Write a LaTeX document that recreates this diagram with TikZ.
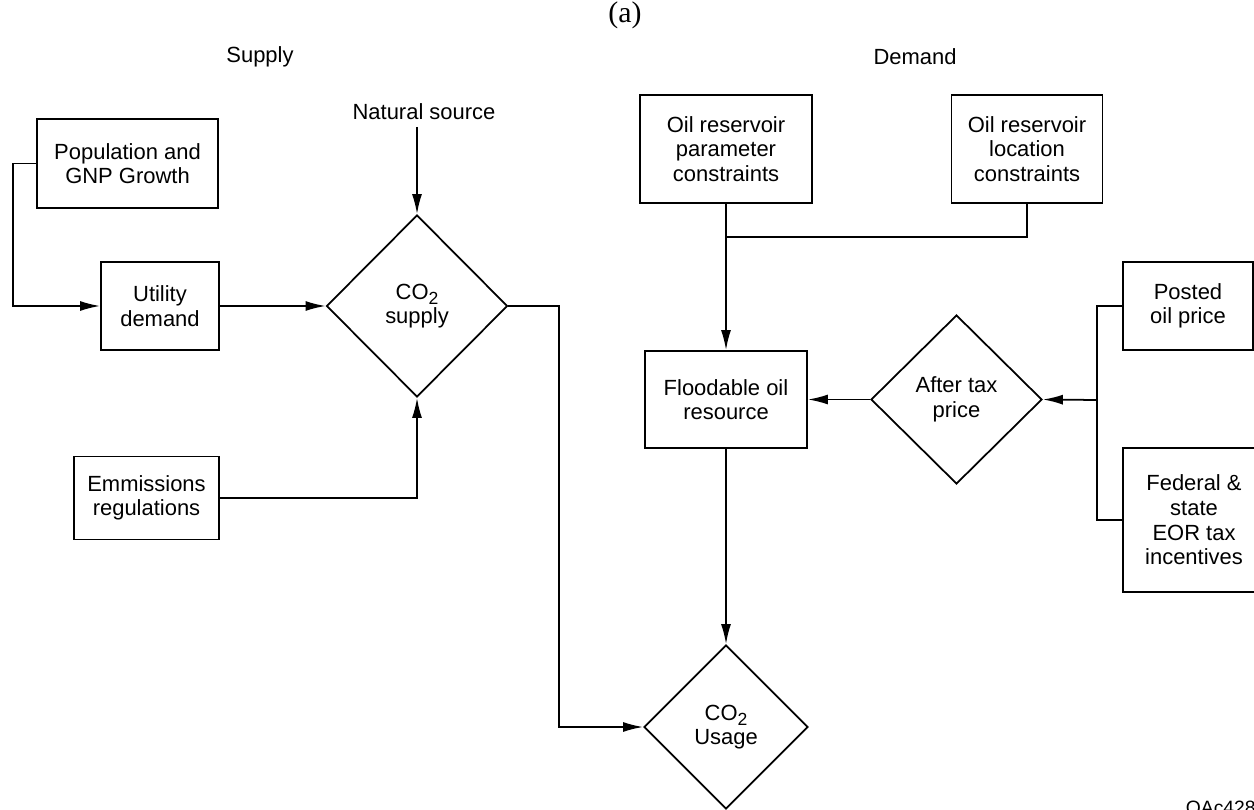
\documentclass[tikz,border=0pt]{standalone}
\usepackage{fontspec}
\setmainfont{Liberation Sans}
\newfontfamily\panelfont{Liberation Serif}
\usetikzlibrary{positioning, shapes.geometric, arrows.meta}
\newcommand{\cotwo}{CO\raisebox{-0.5ex}[0pt][0pt]{\fontsize{10}{10}\selectfont 2}}

\begin{document}
\begin{tikzpicture}[x = 0.02cm, y = -0.02cm, > = {Latex[length = 4mm, width = 2mm]}, line width = 1pt,
  block/.style = {draw, rectangle, align = center, inner sep = 0pt, font = \fontsize{12.5}{14}\selectfont},
  decision/.style = {draw, diamond, align = center, inner sep = 0pt, font = \fontsize{12.5}{14}\selectfont},
  heading/.style = {font = \fontsize{12.5}{14}\selectfont}]
  \useasboundingbox (0,0) rectangle (1254,810);

  % headings
  \node [font = \panelfont\fontsize{17}{19}\selectfont] (panel-label) at (625,15) {(a)};
  \node [heading] (supply-label) at (260,57) {Supply};
  \node [heading] (demand-label) at (915,57) {Demand};
  \node [anchor = north west, inner sep = 0pt, font = \fontsize{11}{13}\selectfont] (figure-id) at (1185,800) {OAc4287c};

  % nodes - supply
  \node [block, minimum width = 3.62cm, minimum height = 1.78cm] (pop-growth) at (127.5,163.5) {Population and\\GNP Growth};
  \node [block, minimum width = 2.36cm, minimum height = 1.76cm] (utility-demand) at (160,306) {Utility\\demand};
  \node [block, minimum width = 2.9cm, minimum height = 1.66cm] (emissions) at (146.5,498) {Emmissions\\regulations};
  \node [decision, minimum width = 3.62cm, minimum height = 3.64cm] (co2-supply) at (417,306) {\cotwo\\supply};
  \node [heading] (natural-source) at (424,112) {Natural source};

  % nodes - demand
  \node [block, minimum width = 3.44cm, minimum height = 2.16cm] (param-constraints) at (726,149) {Oil reservoir\\parameter\\constraints};
  \node [block, minimum width = 3.02cm, minimum height = 2.16cm] (location-constraints) at (1027,149) {Oil reservoir\\location\\constraints};
  \node [block, minimum width = 3.24cm, minimum height = 1.94cm] (floodable-oil) at (726,399.5) {Floodable oil\\resource};
  \node [decision, minimum width = 3.42cm, minimum height = 3.38cm] (after-tax) at (956.5,399.5) {After tax\\price};
  \node [block, minimum width = 2.6cm, minimum height = 1.76cm] (posted-price) at (1188,306) {Posted\\oil price};
  \node [block, minimum width = 2.84cm, minimum height = 2.88cm] (tax-incentives) at (1194,520) {Federal \&\\state\\EOR tax\\incentives};
  \node [decision, minimum width = 3.28cm, minimum height = 3.28cm] (co2-usage) at (726,727) {\cotwo\\Usage};

  \coordinate [below = 0.66cm of param-constraints.south] (merge);
  \coordinate (fork) at (1097,400);

  % edges - supply
  \draw [->] (pop-growth.west) -- ++(-23,0) |- (utility-demand.west);
  \draw [->] (utility-demand.east) -- (co2-supply.west);
  \draw [->] (natural-source.south -| co2-supply.north) -- (co2-supply.north);
  \draw [->] (emissions.east) -| (co2-supply.south);
  \draw [->] (co2-supply.east) -- ++(51,0) |- (co2-usage.west);

  % edges - demand
  \draw (location-constraints.south) |- (merge);
  \draw [->] (param-constraints.south) -- (floodable-oil.north);
  \draw (posted-price.west) -| (fork) |- (tax-incentives.west);
  \draw [->] (fork) -- (after-tax.east);
  \draw [->] (after-tax.west) -- (floodable-oil.east);
  \draw [->] (floodable-oil.south) -- (co2-usage.north);

\end{tikzpicture}
\end{document}
